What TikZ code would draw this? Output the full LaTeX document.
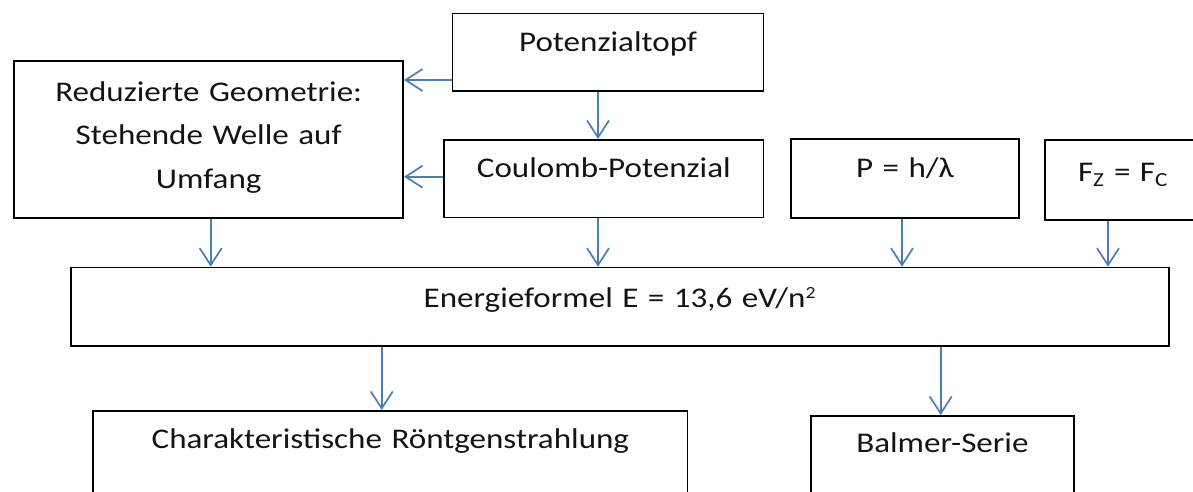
\documentclass[tikz,border=0pt]{standalone}
\usepackage{fontspec}
\setmainfont{Carlito}[FakeStretch=1.16]
\usetikzlibrary{arrows.meta}
\definecolor{arrowblue}{RGB}{74,126,187}
\definecolor{txtcol}{RGB}{20,20,20}
\tikzset{
  box/.style={draw=black, line width=1.7pt, inner sep=0pt, align=center,
    anchor=north west, text=txtcol, font=\fontsize{28.5}{43.5}\selectfont},
  arr/.style={draw=arrowblue, line width=1.7pt,
    -{Straight Barb[length=17pt,width=22pt,line width=1.7pt]}}
}
\begin{document}
\begin{tikzpicture}[x=1pt,y=-1pt]
\useasboundingbox (0,0) rectangle (1193,491);
\clip (0,0) rectangle (1193,491);
\fill[white] (0,0) rectangle (1193,491);
% boxes
\node[box, text width=389pt, text height=40pt, text depth=117pt] (red) at (13.3,60.3)
  {Reduzierte Geometrie:\\Stehende Welle auf\\Umfang};
\node[box, text width=311pt, text height=37.5pt, text depth=39.8pt] (pt) at (451.7,12.7) {Potenzialtopf};
\node[box, text width=319.4pt, text height=37.7pt, text depth=40pt] (cp) at (443.3,139) {Coulomb-Potenzial};
\node[box, text width=228.3pt, text height=38.7pt, text depth=40.3pt] (p) at (790,138.3) {P = h/λ};
\node[box, text width=155.7pt, text height=42pt, text depth=38pt] (fz) at (1044.3,139) {F\textsubscript{Z} = F\textsubscript{C}};
\node[box, text width=1098pt, text height=40pt, text depth=38.3pt] (en) at (70,266.7) {Energieformel E = 13,6 eV/n\textsuperscript{\fontsize{17}{17}\selectfont 2}};
\node[box, text width=594.4pt, text height=38pt, text depth=72pt] (ch) at (92.3,410) {Charakteristische Röntgenstrahlung};
\node[box, text width=263pt, text height=36.7pt, text depth=68pt] (bal) at (810,415) {Balmer-Serie};
% connectors
\draw[arr] (pt.west |- 0,80) -- (red.east |- 0,80);
\draw[arr] (cp.west |- 0,176.7) -- (red.east |- 0,176.7);
\draw[arr] (pt.south -| 598,0) -- (cp.north -| 598,0);
\draw[arr] (red.south -| 210.7,0) -- (en.north -| 210.7,0);
\draw[arr] (cp.south -| 598,0) -- (en.north -| 598,0);
\draw[arr] (p.south -| 902,0) -- (en.north -| 902,0);
\draw[arr] (fz.south -| 1108,0) -- (en.north -| 1108,0);
\draw[arr] (en.south -| 381.7,0) -- (ch.north -| 381.7,0);
\draw[arr] (en.south -| 940.7,0) -- (bal.north -| 940.7,0);
\end{tikzpicture}
\end{document}
